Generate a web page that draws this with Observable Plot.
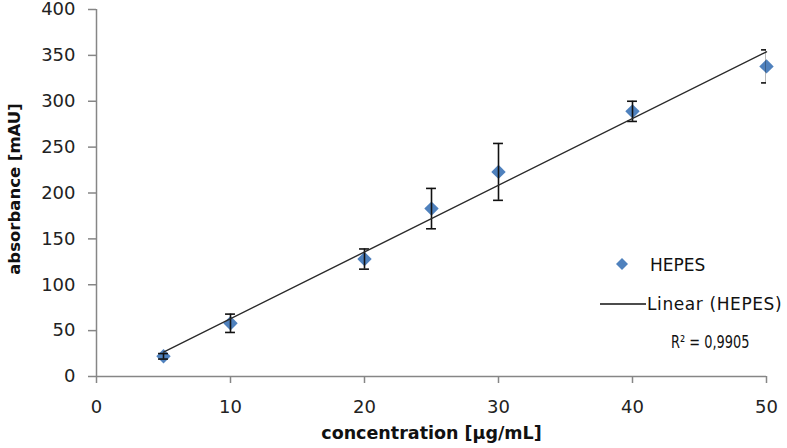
<!DOCTYPE html>
<html>
<head>
<meta charset="utf-8">
<script src="https://cdn.jsdelivr.net/npm/d3@7"></script>
<script src="https://cdn.jsdelivr.net/npm/@observablehq/plot@0.6"></script>
<style>
  html, body { margin: 0; padding: 0; background: #fff; }
  #wrap { position: relative; width: 787px; height: 448px; }
  .leg { position: absolute; font-family: "DejaVu Sans", sans-serif; font-size: 17px; color: #111; white-space: nowrap; line-height: 1; }
</style>
</head>
<body>
<div id="wrap"></div>
<script>
const concentration = [5, 10, 20, 25, 30, 40, 50];
const absorbance = [22, 58, 128, 183, 223, 289, 338];
const errorSize = [3, 10, 11, 22, 31, 11, 18];
const xTicks = [0, 10, 20, 30, 40, 50];
const yTicks = [0, 50, 100, 150, 200, 250, 300, 350, 400];
const seriesName = "HEPES";
const trendName = "Linear (HEPES)";
const r2Label = "R² = 0,9905";
const xTitle = "concentration [µg/mL]";
const yTitle = "absorbance [mAU]";

const data = concentration.map((c, i) => ({x: c, y: absorbance[i], e: errorSize[i]}));
const capHalf = 0.37;
const axisGray = "#868686";
const blue = "#4F81BD";

const chart = Plot.plot({
  width: 787,
  height: 448,
  marginLeft: 96,
  marginRight: 21,
  marginTop: 9,
  marginBottom: 72,
  style: {fontFamily: "DejaVu Sans, sans-serif", fontSize: "18px", color: "#222", background: "#fff", overflow: "visible"},
  x: {domain: [0, 50], ticks: xTicks},
  y: {domain: [0, 400], ticks: yTicks},
  marks: [
    Plot.ruleY([0], {stroke: axisGray, strokeWidth: 1.5}),
    Plot.ruleX([0], {stroke: axisGray, strokeWidth: 1.5}),
    Plot.axisX({ticks: xTicks, tickSize: 7, tickPadding: 17, stroke: axisGray, strokeWidth: 1.5, label: null, fill: "#222"}),
    Plot.axisY({ticks: yTicks, tickSize: 8, tickPadding: 13, stroke: axisGray, strokeWidth: 1.5, label: null, fill: "#222"}),
    Plot.dot(data, {x: "x", y: "y", symbol: "diamond2", r: 6.5, fill: blue, stroke: "none"}),
    Plot.ruleX(data, {x: "x", y1: d => d.y - d.e, y2: d => d.y + d.e, stroke: "#111", strokeWidth: 1.6, clip: true}),
    Plot.ruleY(data, {y: d => d.y + d.e, x1: d => d.x - capHalf, x2: d => d.x + capHalf, stroke: "#111", strokeWidth: 1.6, clip: true}),
    Plot.ruleY(data, {y: d => d.y - d.e, x1: d => d.x - capHalf, x2: d => d.x + capHalf, stroke: "#111", strokeWidth: 1.6, clip: true}),
    Plot.linearRegressionY(data, {x: "x", y: "y", stroke: "#2a2a2a", strokeWidth: 1.4, ci: 0}),
    Plot.text([yTitle], {frameAnchor: "left", dx: -82, dy: -4, rotate: -90, textAnchor: "middle", fontWeight: "bold", fontSize: 16.5, fill: "#111"}),
    Plot.text([xTitle], {frameAnchor: "bottom", dy: 62, fontWeight: "bold", fontSize: 17.5, fill: "#111"})
  ]
});

const wrap = document.getElementById("wrap");
wrap.appendChild(chart);

function addLeg(html, left, top, extra) {
  const d = document.createElement("div");
  d.className = "leg";
  d.style.left = left + "px";
  d.style.top = top + "px";
  if (extra) Object.assign(d.style, extra);
  d.innerHTML = html;
  wrap.appendChild(d);
}
addLeg(`<svg width="12" height="12" style="display:block"><path d="M6 0 L12 6 L6 12 L0 6 Z" fill="${blue}"/></svg>`, 616, 258);
addLeg(seriesName, 650, 257);
addLeg(`<svg width="46" height="4" style="display:block"><line x1="0" y1="2" x2="46" y2="2" stroke="#111" stroke-width="1.4"/></svg>`, 600, 302);
addLeg(trendName, 647, 296, {letterSpacing: "0.6px"});
addLeg(r2Label, 671, 334, {transform: "scaleX(0.76)", transformOrigin: "0 0"});
</script>
</body>
</html>
